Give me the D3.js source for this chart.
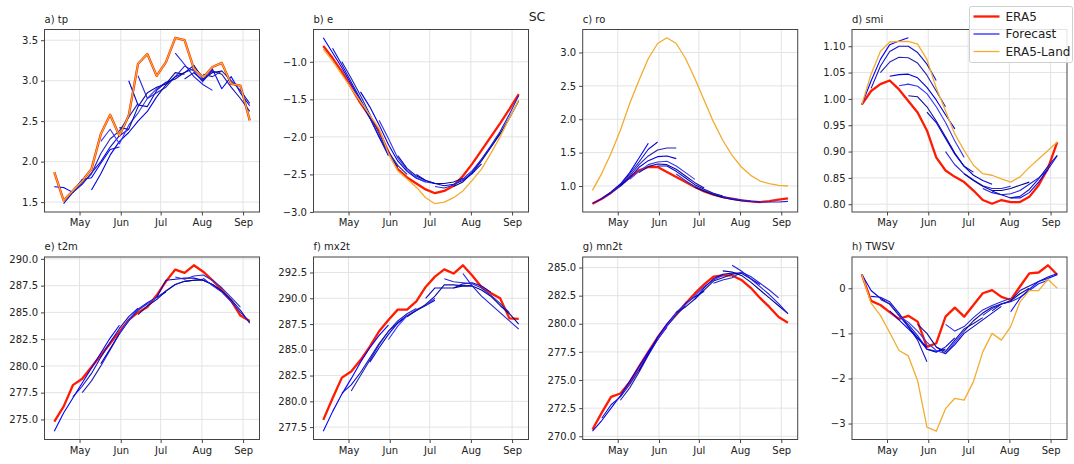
<!DOCTYPE html>
<html>
<head>
<meta charset="utf-8">
<script src="https://cdn.jsdelivr.net/npm/d3@7"></script>
<style>
  body { margin: 0; background: #fff; }
  svg { display: block; }
  text { font-family: "DejaVu Sans", sans-serif; fill: #222; }
</style>
</head>
<body>
<svg id="chart" width="1074" height="464"></svg>
<script>
// Weekly valid dates of the seasonal series
const weeks = [
  "2021-04-12", "2021-04-19", "2021-04-26", "2021-05-03", "2021-05-10", "2021-05-17",
  "2021-05-24", "2021-05-31", "2021-06-07", "2021-06-14", "2021-06-21", "2021-06-28",
  "2021-07-05", "2021-07-12", "2021-07-19", "2021-07-26", "2021-08-02", "2021-08-09",
  "2021-08-16", "2021-08-23", "2021-08-30", "2021-09-06"
];
const monthTicks = ["2021-05-01", "2021-06-01", "2021-07-01", "2021-08-01", "2021-09-01"];
const monthLabels = ["May", "Jun", "Jul", "Aug", "Sep"];

// a) total precipitation
const tpEra5 = [1.87, 1.52, 1.64, 1.76, 1.91, 2.34, 2.58, 2.32, 2.57, 3.21, 3.33, 3.06, 3.23, 3.53, 3.50, 3.15, 3.04, 3.17, 3.22, 2.96, 2.94, 2.51];
const tpLand = [1.87, 1.52, 1.64, 1.76, 1.91, 2.34, 2.58, 2.32, 2.57, 3.21, 3.33, 3.06, 3.23, 3.53, 3.50, 3.15, 3.04, 3.17, 3.22, 2.96, 2.94, 2.51];
const tpFcst = [
  [0, [1.69, 1.68, 1.62, 1.78, 1.80, 1.98, 2.15, 2.18]],
  [1, [1.48, 1.62, 1.72, 1.86, 2.00, 2.18, 2.32, 2.40]],
  [2, [1.62, 1.73, 1.85, 2.10, 2.28, 2.38, 2.55, 2.72]],
  [4, [1.65, 1.85, 2.08, 2.25, 2.36, 2.50, 2.62, 2.80]],
  [5, [2.25, 2.40, 2.22, 2.45, 2.60, 2.78, 2.90, 2.98]],
  [7, [2.42, 2.40, 2.68, 2.85, 2.92, 2.96, 3.10, 3.08]],
  [8, [3.00, 2.70, 2.68, 2.88, 2.98, 3.02, 3.10, 3.15]],
  [9, [3.06, 2.78, 2.85, 2.92, 3.05, 3.18, 3.12, 2.98]],
  [11, [2.80, 2.95, 3.05, 3.10, 3.19, 3.02, 3.10, 3.12]],
  [13, [3.34, 3.20, 3.05, 2.95, 2.88]],
  [14, [3.02, 3.10, 3.00, 3.12, 3.08, 2.92, 2.78, 2.62]],
  [15, [3.10, 3.00, 3.14, 2.90, 3.05, 2.85, 2.69]],
  [16, [3.08, 3.05, 3.12, 3.00, 2.88, 2.72]]
];
const tpTicks = [1.5, 2.0, 2.5, 3.0, 3.5];

// b) evaporation
const eEra5 = [-0.79, -0.95, -1.13, -1.34, -1.55, -1.73, -1.92, -2.20, -2.43, -2.54, -2.62, -2.70, -2.75, -2.72, -2.65, -2.52, -2.36, -2.18, -2.00, -1.82, -1.63, -1.43];
const eLand = [-0.83, -0.99, -1.17, -1.35, -1.53, -1.71, -1.89, -2.22, -2.45, -2.56, -2.67, -2.81, -2.89, -2.87, -2.81, -2.72, -2.58, -2.43, -2.22, -2.00, -1.75, -1.51];
const eFcst = [
  [0, [-0.68, -0.88, -1.08, -1.30, -1.52, -1.75, -2.00, -2.25]],
  [1, [-0.82, -1.04, -1.27, -1.50, -1.74, -2.00, -2.22, -2.40]],
  [2, [-1.00, -1.22, -1.45, -1.70, -1.96, -2.20, -2.38, -2.50]],
  [4, [-1.40, -1.60, -1.84, -2.10, -2.32, -2.46, -2.55, -2.60]],
  [6, [-1.78, -2.02, -2.28, -2.44, -2.54, -2.60, -2.62, -2.62]],
  [8, [-2.25, -2.42, -2.52, -2.58, -2.62, -2.62, -2.60, -2.55]],
  [10, [-2.50, -2.58, -2.62, -2.65, -2.63, -2.58, -2.49, -2.36]],
  [12, [-2.66, -2.68, -2.64, -2.56, -2.45, -2.30, -2.13, -1.95]],
  [14, [-2.66, -2.60, -2.48, -2.32, -2.14, -1.96, -1.75, -1.52]],
  [15, [-2.58, -2.47, -2.30, -2.12, -1.93, -1.70, -1.45]]
];
const eTicks = [-3.0, -2.5, -2.0, -1.5, -1.0];

// c) runoff
const roEra5 = [0.735, 0.81, 0.90, 1.01, 1.135, 1.235, 1.285, 1.285, 1.21, 1.135, 1.06, 0.985, 0.92, 0.87, 0.835, 0.81, 0.785, 0.77, 0.76, 0.775, 0.795, 0.815];
const roLand = [0.935, 1.19, 1.49, 1.835, 2.235, 2.585, 2.91, 3.135, 3.22, 3.135, 2.91, 2.61, 2.285, 1.96, 1.685, 1.46, 1.285, 1.16, 1.075, 1.035, 1.01, 1.00];
const roFcst = [
  [0, [0.74, 0.81, 0.91, 1.03, 1.20, 1.42, 1.64]],
  [1, [0.81, 0.90, 1.02, 1.18, 1.36, 1.55, 1.66]],
  [2, [0.90, 1.00, 1.15, 1.32, 1.45, 1.54, 1.57, 1.57]],
  [3, [1.00, 1.12, 1.28, 1.38, 1.44, 1.45, 1.41]],
  [4, [1.10, 1.22, 1.32, 1.36, 1.37, 1.30, 1.20, 1.10]],
  [5, [1.20, 1.29, 1.33, 1.32, 1.25, 1.15, 1.05, 0.97]],
  [7, [1.30, 1.30, 1.22, 1.12, 1.02, 0.95, 0.89, 0.85]],
  [9, [1.18, 1.08, 0.99, 0.93, 0.88, 0.84, 0.81, 0.79]],
  [11, [0.98, 0.92, 0.87, 0.83, 0.80, 0.78, 0.77, 0.76]],
  [14, [0.84, 0.81, 0.79, 0.77, 0.76, 0.76, 0.76, 0.77]]
];
const roTicks = [1.0, 1.5, 2.0, 2.5, 3.0];

// d) soil moisture index
const smiEra5 = [0.989, 1.015, 1.028, 1.035, 1.018, 0.996, 0.974, 0.94, 0.889, 0.864, 0.852, 0.842, 0.826, 0.808, 0.801, 0.808, 0.804, 0.804, 0.814, 0.836, 0.868, 0.918];
const smiLand = [0.989, 1.047, 1.09, 1.108, 1.109, 1.109, 1.104, 1.075, 1.021, 0.977, 0.933, 0.902, 0.874, 0.858, 0.855, 0.848, 0.842, 0.852, 0.870, 0.886, 0.902, 0.918];
const smiFcst = [
  [0, [0.989, 1.034, 1.075, 1.103, 1.110, 1.116]],
  [1, [1.020, 1.062, 1.090, 1.100, 1.100, 1.088, 1.066, 1.035]],
  [2, [1.050, 1.070, 1.079, 1.078, 1.068, 1.045, 1.015, 0.985]],
  [3, [1.043, 1.046, 1.047, 1.040, 1.022, 0.998, 0.970, 0.943]],
  [4, [1.025, 1.028, 1.024, 1.010, 0.985, 0.955, 0.920, 0.889]],
  [5, [1.006, 1.004, 0.985, 0.958, 0.928, 0.897, 0.872, 0.861]],
  [7, [0.975, 0.955, 0.925, 0.895, 0.872, 0.855, 0.845, 0.838]],
  [9, [0.900, 0.875, 0.858, 0.846, 0.835, 0.830, 0.830, 0.834]],
  [11, [0.858, 0.845, 0.834, 0.826, 0.826, 0.830, 0.836, 0.842]],
  [13, [0.830, 0.822, 0.818, 0.820, 0.826, 0.838, 0.850, 0.865]],
  [14, [0.825, 0.818, 0.812, 0.815, 0.828, 0.848, 0.872, 0.893]],
  [16, [0.812, 0.812, 0.822, 0.842, 0.866, 0.892]]
];
const smiTicks = [0.80, 0.85, 0.90, 0.95, 1.00, 1.05, 1.10];

// e) 2 m temperature
const t2mEra5 = [274.8, 276.2, 278.2, 278.8, 279.9, 281.0, 282.1, 283.2, 284.3, 285.0, 285.5, 286.6, 287.9, 289.0, 288.7, 289.4, 288.8, 288.0, 287.1, 286.1, 284.7, 284.2];
const t2mFcst = [
  [0, [273.9, 275.6, 277.0, 278.4, 279.8, 281.2, 282.6, 283.8]],
  [2, [277.1, 278.1, 279.3, 280.8, 282.2, 283.5, 284.6, 285.4]],
  [3, [277.5, 278.6, 280.0, 281.5, 283.0, 284.2, 285.2, 285.8]],
  [5, [280.2, 281.6, 283.0, 284.3, 285.3, 285.9, 286.4, 286.9]],
  [7, [283.0, 284.3, 285.3, 285.8, 286.4, 287.0, 287.6, 287.9]],
  [9, [284.8, 285.6, 286.2, 287.0, 287.6, 287.9, 288.0, 288.1]],
  [11, [286.4, 288.0, 288.1, 288.2, 288.2, 288.0, 287.6, 287.0]],
  [13, [288.3, 288.1, 288.4, 288.5, 288.0, 287.3, 286.4, 285.5]],
  [14, [287.9, 288.0, 288.0, 287.6, 287.0, 286.2, 285.2, 284.0]],
  [16, [288.2, 287.5, 286.9, 286.0, 285.0, 284.1]]
];
const t2mTicks = [275.0, 277.5, 280.0, 282.5, 285.0, 287.5, 290.0];

// f) maximum 2 m temperature
const mx2tEra5 = [278.2, 280.3, 282.3, 282.9, 284.0, 285.3, 286.8, 287.9, 288.9, 288.9, 289.7, 291.1, 292.1, 292.8, 292.4, 293.2, 292.2, 291.1, 290.5, 290.0, 288.05, 288.0];
const mx2tFcst = [
  [0, [277.1, 279.0, 280.7, 282.2, 283.8, 285.2, 286.4, 287.4]],
  [2, [280.8, 281.6, 282.8, 284.2, 285.6, 286.8, 287.6, 288.3]],
  [3, [281.0, 282.5, 284.0, 285.5, 286.8, 287.8, 288.5, 289.0]],
  [5, [283.8, 285.2, 286.5, 287.6, 288.3, 288.8, 289.3, 289.8]],
  [7, [286.0, 287.3, 288.3, 288.9, 289.3, 290.0]],
  [9, [288.2, 288.8, 289.4, 290.2, 291.3, 291.3, 291.2, 291.2]],
  [11, [290.0, 291.0, 291.0, 291.0, 291.4, 291.5, 291.2, 290.6]],
  [13, [291.9, 291.6, 291.5, 291.4, 291.0, 290.3, 289.5, 288.6]],
  [14, [291.0, 291.2, 291.2, 290.8, 290.2, 289.3, 288.5, 287.5]],
  [15, [292.4, 291.2, 290.2, 289.4, 288.6, 287.8, 287.0]]
];
const mx2tTicks = [277.5, 280.0, 282.5, 285.0, 287.5, 290.0, 292.5];

// g) minimum 2 m temperature
const mn2tEra5 = [270.6, 272.1, 273.5, 273.8, 274.8, 276.2, 277.5, 278.8, 279.9, 280.8, 281.8, 282.7, 283.5, 284.2, 284.3, 284.3, 283.9, 283.2, 282.3, 281.5, 280.6, 280.1];
const mn2tFcst = [
  [0, [270.45, 271.4, 272.5, 273.6, 274.9, 276.2, 277.5, 278.7]],
  [1, [271.6, 272.8, 273.5, 274.6, 275.9, 277.3, 278.6, 279.7]],
  [3, [273.2, 274.3, 275.7, 277.2, 278.6, 279.8, 280.8, 281.6]],
  [5, [275.8, 277.3, 278.8, 280.0, 281.0, 281.8, 282.4, 282.9]],
  [7, [278.6, 279.8, 281.0, 281.7, 282.5, 283.3, 283.9, 284.3]],
  [9, [281.0, 281.5, 282.2, 283.0, 283.8, 284.1, 284.4, 284.5]],
  [11, [282.2, 283.2, 284.0, 284.4, 284.5, 284.5, 284.0, 283.5]],
  [13, [283.6, 283.9, 284.1, 284.6, 284.2, 283.6, 283.0, 282.3]],
  [14, [284.7, 284.6, 284.3, 283.7, 283.0, 282.3, 281.6, 280.9]],
  [15, [285.2, 284.7, 284.0, 283.3, 282.6, 281.8, 280.9]]
];
const mn2tTicks = [270.0, 272.5, 275.0, 277.5, 280.0, 282.5, 285.0];

// h) terrestrial water storage variation
const twsvEra5 = [0.31, -0.28, -0.37, -0.53, -0.68, -0.61, -0.74, -1.30, -1.22, -0.63, -0.43, -0.63, -0.37, -0.11, -0.04, -0.19, -0.26, 0.04, 0.33, 0.35, 0.51, 0.30];
const twsvLand = [0.31, -0.33, -0.60, -0.98, -1.38, -1.50, -2.05, -3.08, -3.17, -2.67, -2.44, -2.48, -2.07, -1.41, -1.00, -1.15, -0.85, -0.30, -0.05, -0.05, 0.20, 0.00];
const twsvFcst = [
  [0, [0.31, -0.05, -0.22, -0.35, -0.60, -0.85, -1.10, -1.30]],
  [1, [-0.18, -0.20, -0.30, -0.55, -0.85, -1.15, -1.63]],
  [2, [-0.25, -0.35, -0.60, -0.80, -1.05, -1.35, -1.40, -1.35]],
  [3, [-0.50, -0.70, -0.90, -1.10, -1.35, -1.42, -1.30, -1.10]],
  [4, [-0.62, -0.75, -0.95, -1.20, -1.38, -1.45, -1.20, -0.95]],
  [6, [-0.80, -1.00, -1.30, -1.40, -1.15, -0.90, -0.78, -0.65]],
  [8, [-1.30, -1.45, -1.25, -1.00, -0.85, -0.70, -0.55, -0.40]],
  [9, [-0.80, -0.95, -0.85, -0.65, -0.48, -0.38, -0.30, -0.22]],
  [11, [-0.95, -0.72, -0.55, -0.42, -0.35, -0.28, -0.12, 0.00]],
  [13, [-0.60, -0.45, -0.35, -0.30, -0.20, -0.05, 0.10, 0.18]],
  [14, [-0.50, -0.35, -0.28, -0.05, 0.05, 0.15, 0.25, 0.33]],
  [16, [-0.52, -0.22, -0.02, 0.15, 0.22, 0.30]]
];
const twsvTicks = [-3, -2, -1, 0];

const panels = [
  { title: "a) tp",   era5: tpEra5,   land: tpLand,   fcst: tpFcst,   ticks: tpTicks,   fmt: ".1f" },
  { title: "b) e",    era5: eEra5,    land: eLand,    fcst: eFcst,    ticks: eTicks,    fmt: ".1f" },
  { title: "c) ro",   era5: roEra5,   land: roLand,   fcst: roFcst,   ticks: roTicks,   fmt: ".1f" },
  { title: "d) smi",  era5: smiEra5,  land: smiLand,  fcst: smiFcst,  ticks: smiTicks,  fmt: ".2f" },
  { title: "e) t2m",  era5: t2mEra5,  land: null,     fcst: t2mFcst,  ticks: t2mTicks,  fmt: ".1f" },
  { title: "f) mx2t", era5: mx2tEra5, land: null,     fcst: mx2tFcst, ticks: mx2tTicks, fmt: ".1f" },
  { title: "g) mn2t", era5: mn2tEra5, land: null,     fcst: mn2tFcst, ticks: mn2tTicks, fmt: ".1f" },
  { title: "h) TWSV", era5: twsvEra5, land: twsvLand, fcst: twsvFcst, ticks: twsvTicks, fmt: "d" }
];

// ---- styling & layout ----
const RED = "#ff1a00", LAND = "#f2ac2e", FRAME = "#444", GRID = "#e3e3e3";
const blues = ["#0000ff", "#1212c8", "#2424b0", "#0000e0", "#3636f5", "#10109a",
               "#0606cc", "#2a2ad8", "#06068f", "#1f1fe8", "#1414b4", "#0a0af2", "#28289e"];
const W = 215, H = 182.5;
const colX = [44.5, 313.5, 582.7, 852];
const rowY = [29.5, 257];

const parse = d3.timeParse("%Y-%m-%d");
const dates = weeks.map(parse);
const t0 = dates[0], t1 = dates[dates.length - 1];
const span = t1 - t0;

const svg = d3.select("#chart");
svg.append("rect").attr("width", 1074).attr("height", 464).attr("fill", "#fff");

panels.forEach((p, k) => {
  const left = colX[k % 4], top = rowY[Math.floor(k / 4)];
  const g = svg.append("g").attr("transform", `translate(${left},${top})`);

  const x = d3.scaleTime()
    .domain([new Date(+t0 - 0.05 * span), new Date(+t1 + 0.05 * span)])
    .range([0, W]);

  const all = [...p.era5, ...(p.land || []), ...p.fcst.flatMap(f => f[1])];
  const [lo, hi] = d3.extent(all);
  const pad = (hi - lo) * 0.05;
  const y = d3.scaleLinear().domain([lo - pad, hi + pad]).range([H, 0]);

  // grid
  const mt = monthTicks.map(parse);
  g.append("g").selectAll("line").data(mt).join("line")
    .attr("x1", d => x(d)).attr("x2", d => x(d)).attr("y1", 0).attr("y2", H)
    .attr("stroke", GRID).attr("stroke-width", 1);
  g.append("g").selectAll("line").data(p.ticks).join("line")
    .attr("x1", 0).attr("x2", W).attr("y1", d => y(d)).attr("y2", d => y(d))
    .attr("stroke", GRID).attr("stroke-width", 1);

  const line = d3.line().x(d => x(d[0])).y(d => y(d[1]));

  // ERA5
  g.append("path").datum(p.era5.map((v, i) => [dates[i], v]))
    .attr("d", line).attr("fill", "none").attr("stroke", RED)
    .attr("stroke-width", 2.3).attr("stroke-linejoin", "round");

  // forecasts
  p.fcst.forEach((f, j) => {
    const [start, vals] = f;
    g.append("path").datum(vals.map((v, i) => [dates[start + i], v]))
      .attr("d", line).attr("fill", "none").attr("stroke", blues[j % blues.length])
      .attr("stroke-width", 1.1).attr("stroke-linejoin", "round");
  });

  // ERA5-Land
  if (p.land) {
    g.append("path").datum(p.land.map((v, i) => [dates[i], v]))
      .attr("d", line).attr("fill", "none").attr("stroke", LAND)
      .attr("stroke-width", 1.3).attr("stroke-linejoin", "round");
  }

  // frame
  g.append("rect").attr("x", 0).attr("y", 0).attr("width", W).attr("height", H)
    .attr("fill", "none").attr("stroke", FRAME).attr("stroke-width", 1);

  // axes
  const fmt = d3.format(p.fmt);
  const ya = d3.axisLeft(y).tickValues(p.ticks).tickFormat(fmt).tickSize(3.5).tickPadding(3);
  const xa = d3.axisBottom(x).tickValues(mt).tickFormat((d, i) => monthLabels[i]).tickSize(3.5).tickPadding(3.5);
  const yg = g.append("g").call(ya);
  const xg = g.append("g").attr("transform", `translate(0,${H})`).call(xa);
  [yg, xg].forEach(a => {
    a.select(".domain").remove();
    a.selectAll(".tick line").attr("stroke", FRAME);
    a.selectAll(".tick text").attr("font-size", 10).attr("fill", "#222")
      .attr("font-family", "DejaVu Sans, sans-serif");
  });

  g.append("text").attr("x", 0).attr("y", -7).attr("font-size", 10).text(p.title);
});

// figure title
svg.append("text").attr("x", 537).attr("y", 21).attr("text-anchor", "middle")
  .attr("font-size", 12.5).text("SC");

// legend
const legendItems = [
  { name: "ERA5", color: RED, w: 2.3 },
  { name: "Forecast", color: "#0000ff", w: 1.1 },
  { name: "ERA5-Land", color: LAND, w: 1.3 }
];
const lg = svg.append("g").attr("transform", "translate(969.5,6.5)");
lg.append("rect").attr("width", 103).attr("height", 56).attr("rx", 2)
  .attr("fill", "#fff").attr("fill-opacity", 0.85).attr("stroke", "#d0d0d0");
legendItems.forEach((d, i) => {
  const cy = 10 + i * 17.5;
  lg.append("line").attr("x1", 4).attr("x2", 30).attr("y1", cy).attr("y2", cy)
    .attr("stroke", d.color).attr("stroke-width", d.w);
  lg.append("text").attr("x", 36).attr("y", cy + 4.3).attr("font-size", 12).text(d.name);
});
</script>
</body>
</html>
